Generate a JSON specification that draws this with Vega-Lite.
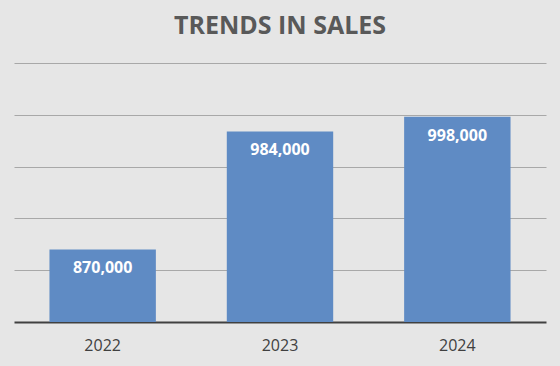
{
  "$schema": "https://vega.github.io/schema/vega-lite/v6.json",
  "width": 532,
  "height": 259,
  "autosize": {"type": "none"},
  "padding": {"left": 14, "top": 63, "right": 14, "bottom": 44},
  "background": "#e6e6e6",
  "title": {
    "text": "TRENDS IN SALES",
    "font": "Open Sans",
    "fontSize": 25,
    "fontWeight": "bold",
    "color": "#595959",
    "letterSpacing": 1.8,
    "anchor": "middle",
    "baseline": "alphabetic",
    "offset": 4
  },
  "data": {
    "values": [
      {"year": "2022", "sales": 870000},
      {"year": "2023", "sales": 984000},
      {"year": "2024", "sales": 998000}
    ]
  },
  "config": {
    "view": {"stroke": null},
    "axis": {"labelFont": "Open Sans"}
  },
  "encoding": {
    "x": {
      "field": "year",
      "type": "nominal",
      "scale": {"paddingInner": 0.4, "paddingOuter": 0.2},
      "axis": {
        "title": null,
        "labelAngle": 0,
        "labelFontSize": 16,
        "labelColor": "#404040",
        "labelPadding": 15,
        "ticks": false,
        "domainColor": "#404040",
        "domainWidth": 2,
        "grid": false
      }
    },
    "y": {
      "field": "sales",
      "type": "quantitative",
      "scale": {"domain": [800000, 1050000], "nice": false, "zero": false},
      "axis": {
        "title": null,
        "labels": false,
        "ticks": false,
        "domain": false,
        "values": [850000, 900000, 950000, 1000000, 1050000],
        "gridColor": "#a8a8a8",
        "gridWidth": 1
      }
    }
  },
  "layer": [
    {"mark": {"type": "bar", "color": "#5f8bc4", "clip": true}},
    {
      "mark": {
        "type": "text",
        "dy": 19,
        "baseline": "middle",
        "font": "Open Sans",
        "fontSize": 16,
        "fontWeight": "bold",
        "color": "white"
      },
      "encoding": {
        "text": {"field": "sales", "type": "quantitative", "format": ",d"}
      }
    }
  ]
}
